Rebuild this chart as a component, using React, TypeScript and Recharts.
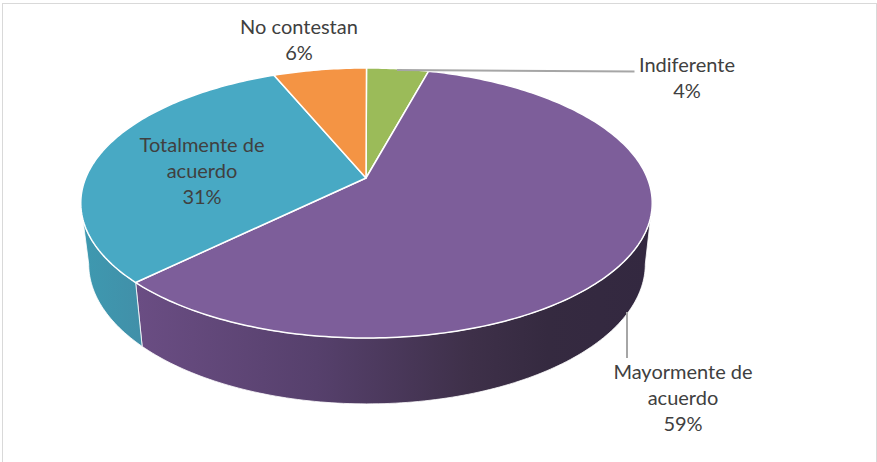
import React from "react";
import { PieChart, Pie, Cell } from "recharts";

const categories = ["Indiferente", "Mayormente de acuerdo", "Totalmente de acuerdo", "No contestan"];
const values = [4.2, 58.5, 31.0, 6.3];
const topColors = ["#9bbb59", "#7d5e9a", "#48a9c4", "#f49444"];
const tableData = categories.map((name, i) => ({ name, value: values[i] }));

const W = 877;
const H = 462;
const CX = 366;
const CY = 178;
const K = 0.185;
const TOP = { a: 280.8, b: 130.4, dx: 0.5, dy: 0 };
const BOTTOM = { a: 273.5, b: 135.2, dx: 1, dy: 60 };

const labelLayout = [
  { x: 687, y: 72, lines: ["Indiferente"], leader: "M397 70 L634.5 71.5" },
  { x: 683, y: 379, lines: ["Mayormente de", "acuerdo"], leader: "M627 312 L627 358" },
  { x: 202, y: 152, lines: ["Totalmente de", "acuerdo"], leader: "" },
  { x: 299, y: 34, lines: ["No contestan"], leader: "" },
];

function project(deg: number, f: typeof TOP, cx: number, cy: number) {
  const r = (deg * Math.PI) / 180;
  const X = Math.cos(r);
  const Y = Math.sin(r);
  const d = 1 + K * Y;
  return [cx + f.dx + (f.a * X) / d, cy + f.dy - (f.b * Y) / d];
}

function arcPoints(from: number, to: number, f: typeof TOP, cx: number, cy: number) {
  const n = Math.max(2, Math.ceil(Math.abs(to - from)));
  const pts: number[][] = [];
  for (let i = 0; i <= n; i++) pts.push(project(from + ((to - from) * i) / n, f, cx, cy));
  return pts;
}

const toPath = (pts: number[][]) => pts.map((p, i) => `${i ? "L" : "M"}${p[0].toFixed(2)} ${p[1].toFixed(2)}`).join(" ");

// Silhouette angles where the perspective ellipse reaches its horizontal extremes
const RIGHT_EDGE = (Math.asin(-K) * 180) / Math.PI;
const LEFT_EDGE = -180 - RIGHT_EDGE;

const wallStyles: Record<number, { id: string; x1: number; x2: number; stops: [number, string][] }> = {
  1: { id: "wallPurple", x1: 138, x2: 650, stops: [[0, "#6a4d83"], [0.35, "#56406c"], [0.65, "#3e3049"], [0.8, "#352a40"], [1, "#332840"]] },
  2: { id: "wallTeal", x1: 82, x2: 145, stops: [[0, "#3e99b0"], [1, "#418fa8"]] },
};

function SliceShape(props: any) {
  const { cx, cy, startAngle, endAngle, fill, index } = props;
  const top = arcPoints(startAngle, endAngle, TOP, cx, cy);
  const from = Math.min(startAngle, RIGHT_EDGE);
  const to = Math.max(endAngle, LEFT_EDGE);
  const style = wallStyles[index];
  let wall = null;
  if (style && from > to) {
    const a = arcPoints(from, to, TOP, cx, cy);
    const b = arcPoints(to, from, BOTTOM, cx, cy);
    wall = (
      <>
        <defs>
          <linearGradient id={style.id} gradientUnits="userSpaceOnUse" x1={style.x1} x2={style.x2} y1={0} y2={0}>
            {style.stops.map(([o, c]) => (
              <stop key={o} offset={o} stopColor={c} />
            ))}
          </linearGradient>
        </defs>
        <path d={`${toPath(a)} ${toPath(b).replace("M", "L")} Z`} fill={`url(#${style.id})`} stroke="#ffffff" strokeWidth={0.8} />
      </>
    );
  }
  return (
    <g>
      {wall}
      <path d={`M${cx} ${cy} ${toPath(top).replace("M", "L")} Z`} fill={fill} stroke="#ffffff" strokeWidth={1.5} strokeLinejoin="round" />
    </g>
  );
}

function SliceLabel(props: any) {
  const { index, value } = props;
  const l = labelLayout[index];
  const rows = [...l.lines, `${Math.round(value)}%`];
  return (
    <g>
      {l.leader && <path d={l.leader} stroke="#a6a6a6" strokeWidth={2} fill="none" />}
      <text x={l.x} y={l.y} textAnchor="middle" fontFamily="Lato, 'Noto Sans', sans-serif" fontSize={20} fill="#404040">
        {rows.map((t, i) => (
          <tspan key={i} x={l.x} dy={i ? 26 : 0}>
            {t}
          </tspan>
        ))}
      </text>
    </g>
  );
}

export default function App() {
  return (
    <div style={{ position: "fixed", left: 0, top: 0, width: W, height: H, background: "#ffffff", overflow: "hidden" }}>
      <div style={{ position: "absolute", left: 2, top: 3, width: 873, height: 470, border: "1px solid #d9d9d9" }} />
      <div style={{ position: "absolute", left: 0, top: 0 }}>
        <PieChart width={W} height={H} margin={{ top: 0, right: 0, bottom: 0, left: 0 }}>
          <Pie
            data={tableData}
            dataKey="value"
            nameKey="name"
            cx={CX}
            cy={CY}
            innerRadius={0}
            outerRadius={130}
            startAngle={90}
            endAngle={-270}
            paddingAngle={0}
            isAnimationActive={false}
            labelLine={false}
            label={SliceLabel}
            shape={SliceShape}
          >
            {tableData.map((d, i) => (
              <Cell key={d.name} fill={topColors[i]} />
            ))}
          </Pie>
        </PieChart>
      </div>
    </div>
  );
}
